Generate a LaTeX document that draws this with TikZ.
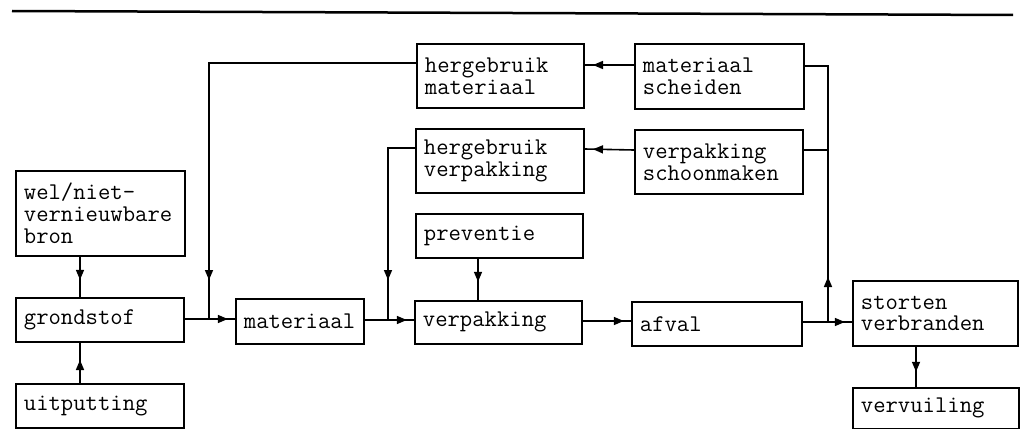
\documentclass[tikz,border=0pt]{standalone}
\usepackage{fontspec}
\usetikzlibrary{arrows.meta, decorations.markings}

\begin{document}
\begin{tikzpicture}[x=1pt, y=-1pt,
    blok/.style={draw, line width=1.8pt, anchor=north west, align=left,
      inner xsep=8pt, inner ysep=0pt, text width=152pt, minimum height=44pt,
      font=\ttfamily\fontsize{24}{21.7}\selectfont},
    lijn/.style={line width=1.6pt},
    pijl/.style={lijn, postaction={decorate}, decoration={markings,
      mark=at position #1 with {\arrow{Triangle[width=8pt,length=10pt]}}}}]
    \useasboundingbox (0,0) rectangle (1024,428);
    \draw[line width=2.5pt] (12,11) -- (1013,15);

    \node[blok, minimum height=85pt, text width=153pt] (bron) at (15,170) {wel/niet-\\vernieuwbare\\bron};
    \node[blok] (grondstof) at (15,297) {grondstof};
    \node[blok] (uitputting) at (15,383) {uitputting};
    \node[blok, text width=112pt, minimum height=45pt] (materiaal) at (235,298) {materiaal};
    \node[blok, minimum height=64pt, text width=151pt] (hermat) at (416,43) {hergebruik\\materiaal};
    \node[blok, minimum height=64pt] (herverp) at (415,128) {hergebruik\\verpakking};
    \node[blok, text width=151pt] (preventie) at (415,213) {preventie};
    \node[blok, minimum height=43pt, text width=151pt] (verpakking) at (414,300) {verpakking};
    \node[blok, minimum height=65pt, text width=153pt] (scheiden) at (634,43) {materiaal\\scheiden};
    \node[blok, minimum height=64pt] (schoonmaken) at (634,129) {verpakking\\schoonmaken};
    \node[blok, text width=154pt] (afval) at (631,301) {afval};
    \node[blok, minimum height=65pt, text width=149pt] (storten) at (852,280) {storten\\verbranden};
    \node[blok, minimum height=41pt, text width=150pt] (vervuiling) at (852,387) {vervuiling};

    \coordinate (j1) at (209,319);
    \coordinate (j2) at (388,320);
    \coordinate (j3) at (828,322);
    \coordinate (s1) at ([yshift=-21pt]schoonmaken.north east);

    \draw[pijl=23pt] ([xshift=65pt]bron.south west) -- ([xshift=65pt]grondstof.north west);
    \draw[pijl=23pt] ([xshift=65pt]uitputting.north west) -- ([xshift=65pt]grondstof.south west);
    \draw[pijl=43pt] (grondstof.east |- j1) -- (materiaal.west |- j1);
    \draw[pijl=424pt] ([yshift=-20pt]hermat.north west) -| (j1);
    \draw[pijl=42pt] (materiaal.east |- j2) -- (verpakking.west |- j2);
    \draw[pijl=159pt] ([yshift=-20pt]herverp.north west) -| (j2);
    \draw[pijl=23pt] ([xshift=63pt]preventie.south west) -- ([xshift=64pt]verpakking.north west);
    \draw[pijl=41pt] (verpakking.east |- 0,321) -- (afval.west |- 0,321);
    \draw[pijl=42pt] (afval.east |- j3) -- (storten.west |- j3);
    \draw[pijl=45pt] (j3) |- ([yshift=-23pt]scheiden.north east);
    \draw[lijn] (s1) -- (s1 -| j3);
    \draw[pijl=41pt] ([yshift=-22pt]scheiden.north west) -- ([yshift=-22pt]hermat.north east);
    \draw[pijl=41pt] ([yshift=-21pt]schoonmaken.north west) -- ([yshift=-21pt]herverp.north east);
    \draw[pijl=25pt] ([xshift=64pt]storten.south west) -- ([xshift=64pt]vervuiling.north west);
  \end{tikzpicture}
\end{document}
